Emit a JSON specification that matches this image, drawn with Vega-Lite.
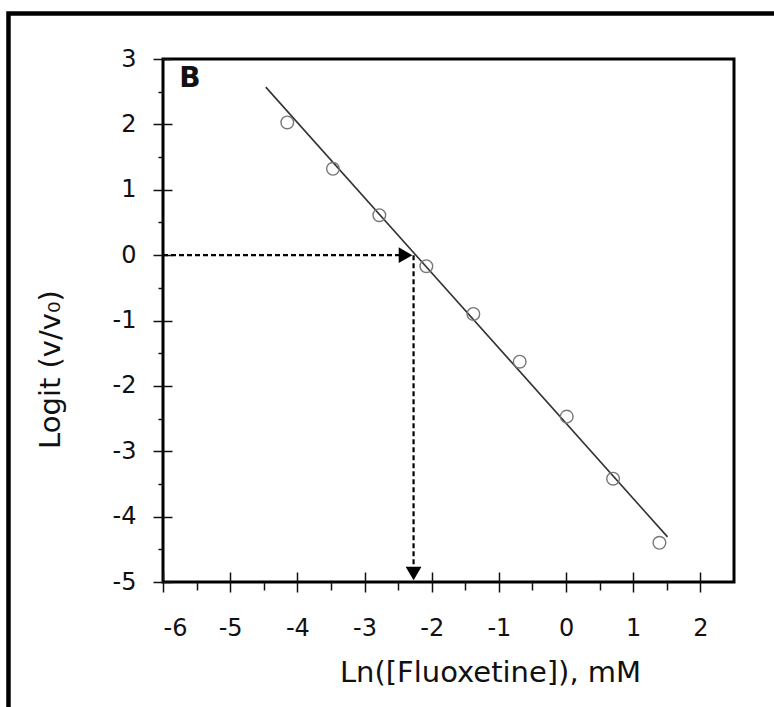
{
  "$schema": "https://vega.github.io/schema/vega-lite/v6.json",
  "width": 571,
  "height": 523,
  "autosize": {"type": "none"},
  "padding": {"left": 163, "top": 59, "right": 40, "bottom": 125},
  "background": "white",
  "config": {
    "view": {"stroke": "black", "strokeWidth": 3},
    "font": "DejaVu Sans",
    "axis": {
      "grid": false,
      "domain": false,
      "tickColor": "#111",
      "tickWidth": 1.5,
      "labelFont": "DejaVu Sans",
      "labelFontSize": 24,
      "labelColor": "#111",
      "titleFont": "DejaVu Sans",
      "titleFontSize": 29,
      "titleFontWeight": "normal",
      "titleColor": "#111"
    }
  },
  "datasets": {
    "obs": [
      {"ln_conc": -4.15, "logit": 2.03},
      {"ln_conc": -3.47, "logit": 1.32},
      {"ln_conc": -2.78, "logit": 0.61},
      {"ln_conc": -2.08, "logit": -0.17},
      {"ln_conc": -1.38, "logit": -0.9},
      {"ln_conc": -0.69, "logit": -1.63},
      {"ln_conc": 0.01, "logit": -2.47},
      {"ln_conc": 0.7, "logit": -3.42},
      {"ln_conc": 1.39, "logit": -4.4}
    ],
    "fit": [
      {"ln_conc": -4.47, "logit": 2.57},
      {"ln_conc": 1.51, "logit": -4.31}
    ],
    "guide": [
      {"x1": -6, "x2": -2.42, "y1": 0, "y2": 0},
      {"x1": -2.27, "x2": -2.27, "y1": 0, "y2": -4.82}
    ],
    "arrows": [
      {"x": -2.39, "y": 0, "dir": "triangle-right"},
      {"x": -2.27, "y": -4.87, "dir": "triangle-down"}
    ],
    "panel": [
      {"label": "B", "x": -5.6, "y": 2.7}
    ]
  },
  "resolve": {"axis": {"x": "independent", "y": "independent"}},
  "layer": [
    {
      "data": {"values": [{}]},
      "mark": {"type": "rect", "fill": "transparent", "stroke": "black", "strokeWidth": 4.5, "clip": false},
      "encoding": {
        "x": {"datum": -8.3, "type": "quantitative", "scale": {"domain": [-6, 2.5], "nice": false, "zero": false}, "axis": null},
        "x2": {"datum": 3.6},
        "y": {"datum": 3.696, "type": "quantitative", "scale": {"domain": [-5, 3], "nice": false, "zero": false}, "axis": null},
        "y2": {"datum": -7.5}
      }
    },
    {
      "data": {"name": "guide"},
      "mark": {"type": "rule", "color": "black", "strokeWidth": 2.2, "strokeDash": [5, 3]},
      "encoding": {
        "x": {"field": "x1", "type": "quantitative", "scale": {"domain": [-6, 2.5], "nice": false, "zero": false},
          "axis": {"orient": "bottom", "values": [-5.5, -4.5, -3.5, -2.5, -1.5, -0.5, 0.5, 1.5], "tickSize": 8, "labels": false, "title": null}},
        "x2": {"field": "x2"},
        "y": {"field": "y1", "type": "quantitative", "scale": {"domain": [-5, 3], "nice": false, "zero": false},
          "axis": {"orient": "left", "values": [-4.5, -3.5, -2.5, -1.5, -0.5, 0.5, 1.5, 2.5], "tickSize": 5, "labels": false, "title": null}},
        "y2": {"field": "y2"}
      }
    },
    {
      "data": {"name": "fit"},
      "mark": {"type": "line", "color": "#333", "strokeWidth": 1.6},
      "encoding": {
        "x": {"field": "ln_conc", "type": "quantitative", "scale": {"domain": [-6, 2.5], "nice": false, "zero": false},
          "axis": {"orient": "bottom", "values": [-6, -5, -4, -3, -2, -1, 0, 1, 2], "tickSize": -10, "labels": false, "title": null}},
        "y": {"field": "logit", "type": "quantitative", "scale": {"domain": [-5, 3], "nice": false, "zero": false},
          "axis": {"orient": "left", "values": [-5, -4, -3, -2, -1, 0, 1, 2, 3], "tickSize": -9, "labels": false, "title": null}}
      }
    },
    {
      "data": {"name": "obs"},
      "mark": {"type": "point", "shape": "circle", "filled": false, "stroke": "#777", "strokeWidth": 1.4, "size": 160, "opacity": 1},
      "encoding": {
        "x": {"field": "ln_conc", "type": "quantitative", "scale": {"domain": [-6, 2.5], "nice": false, "zero": false},
          "axis": {"orient": "bottom", "values": [-6, -5, -4, -3, -2, -1, 0, 1, 2], "tickSize": 10, "labelPadding": 24,
            "labelExpr": "'' + datum.value", "title": "Ln([Fluoxetine]), mM", "titleX": 327, "titleY": 90,
            "titleAlign": "center", "titleBaseline": "middle"}},
        "y": {"field": "logit", "type": "quantitative", "scale": {"domain": [-5, 3], "nice": false, "zero": false},
          "axis": {"orient": "left", "values": [-5, -4, -3, -2, -1, 0, 1, 2, 3], "tickSize": 10, "labelPadding": 17,
            "labelExpr": "'' + datum.value", "title": "Logit (v/v₀)", "titleX": -113, "titleY": 310, "titleAngle": -90,
            "titleAlign": "center", "titleBaseline": "middle"}}
      }
    },
    {
      "data": {"name": "arrows"},
      "mark": {"type": "point", "filled": true, "color": "black", "size": 250, "opacity": 1},
      "encoding": {
        "x": {"field": "x", "type": "quantitative", "scale": {"domain": [-6, 2.5], "nice": false, "zero": false}, "axis": null},
        "y": {"field": "y", "type": "quantitative", "scale": {"domain": [-5, 3], "nice": false, "zero": false}, "axis": null},
        "shape": {"field": "dir", "type": "nominal", "scale": null, "legend": null}
      }
    },
    {
      "data": {"name": "panel"},
      "mark": {"type": "text", "font": "DejaVu Sans", "fontSize": 28, "fontWeight": "bold", "color": "#111", "align": "center", "baseline": "middle"},
      "encoding": {
        "x": {"field": "x", "type": "quantitative", "scale": {"domain": [-6, 2.5], "nice": false, "zero": false}, "axis": null},
        "y": {"field": "y", "type": "quantitative", "scale": {"domain": [-5, 3], "nice": false, "zero": false}, "axis": null},
        "text": {"field": "label"}
      }
    }
  ]
}
